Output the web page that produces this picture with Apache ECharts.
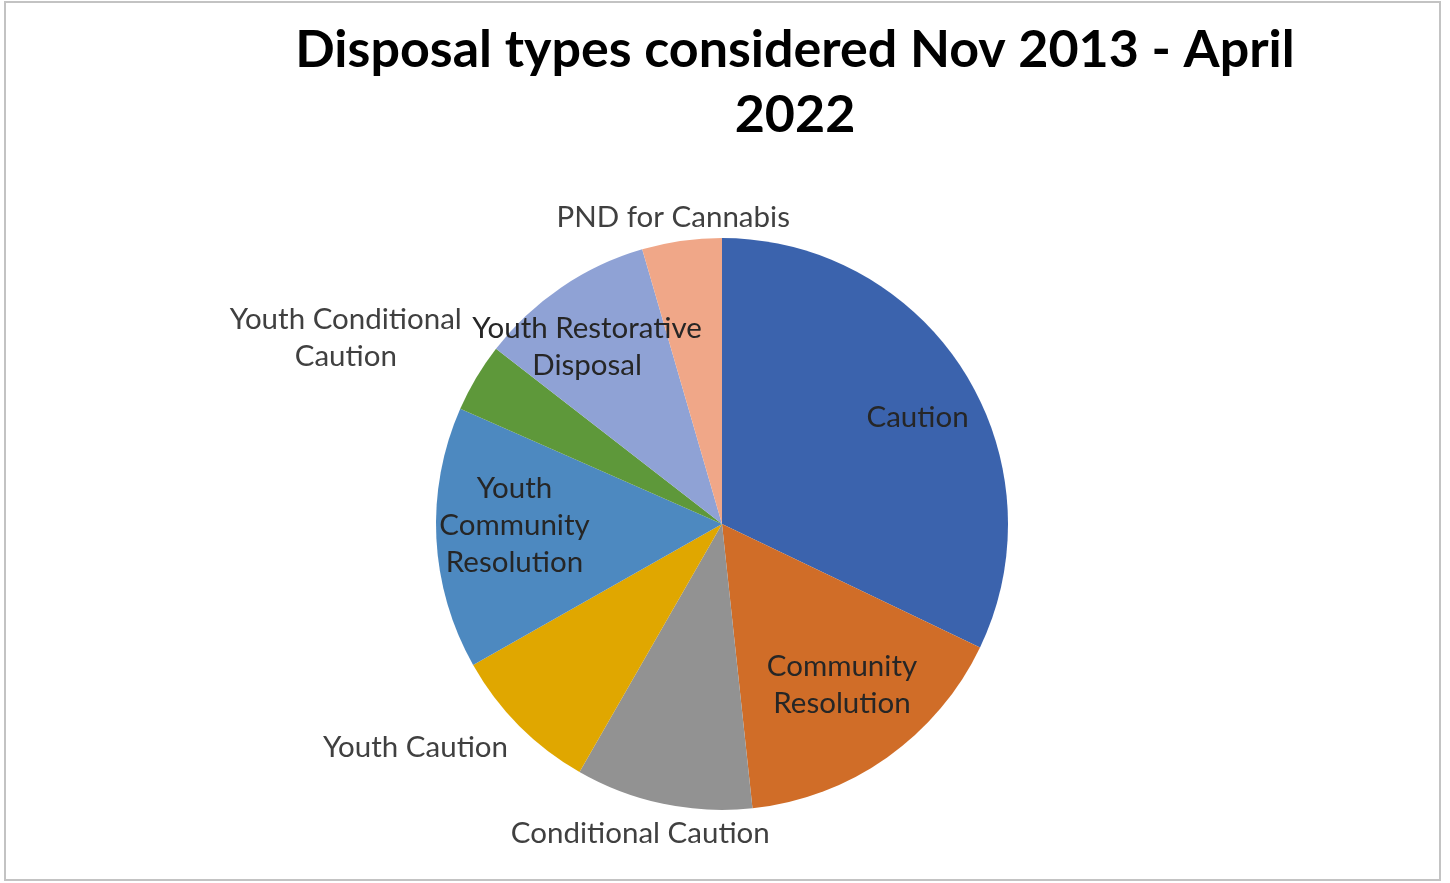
<!DOCTYPE html>
<html>
<head>
<meta charset="utf-8">
<script src="https://cdn.jsdelivr.net/npm/echarts@6/dist/echarts.min.js"></script>
<style>
  html, body { margin: 0; padding: 0; background: #ffffff; }
  #chart { width: 1450px; height: 883px; }
</style>
</head>
<body>
<div id="chart"></div>
<script>
// Disposal types, share of all disposals considered (percent)
const categories = [
  'Caution',
  'Community Resolution',
  'Conditional Caution',
  'Youth Caution',
  'Youth Community Resolution',
  'Youth Conditional Caution',
  'Youth Restorative Disposal',
  'PND for Cannabis'
];
const values = [32.1, 16.2, 10.0, 8.5, 14.8, 3.9, 10.0, 4.5];
const labelText = [
  'Caution',
  'Community\nResolution',
  'Conditional Caution',
  'Youth Caution',
  'Youth\nCommunity\nResolution',
  'Youth Conditional\nCaution',
  'Youth Restorative\nDisposal',
  'PND for Cannabis'
];
const insideLabel = [true, true, false, false, true, false, true, false];
const titleText = 'Disposal types considered Nov 2013 - April\n2022';

const palette = ['#3b63ad', '#d06d28', '#929292', '#e0a700', '#4d89c0', '#5e983a', '#8fa2d5', '#f0a788'];

// pie geometry
const CX = 722, CY = 524, R = 286;
// best-fit label placement: radial factor of R along the slice's mid angle, plus a small nudge
const labelPlace = [
  [0.775, 8, 12],
  [0.702, 4, -3],
  [1.116, -16, -3],
  [1.314, -40, -41],
  [0.723, -1, -9],
  [1.462, -17, 28],
  [0.777, -10, 7],
  [1.087, -5, 1]
];

const total = values.reduce((a, b) => a + b, 0);
const midAngles = [];
let acc = 0;
values.forEach(v => {
  midAngles.push((acc + v / 2) / total * 2 * Math.PI);
  acc += v;
});

const chart = echarts.init(document.getElementById('chart'), null, { renderer: 'canvas' });

chart.setOption({
  backgroundColor: '#ffffff',
  animation: false,
  graphic: [
    {
      type: 'rect',
      shape: { x: 5, y: 2, width: 1435, height: 878 },
      style: { fill: 'none', stroke: '#c3c3c3', lineWidth: 2 },
      silent: true
    },
    {
      type: 'text',
      x: 795,
      y: 83,
      style: {
        text: titleText,
        fontFamily: 'Lato',
        fontWeight: 'bold',
        fontSize: 52,
        lineHeight: 65,
        fill: '#000000',
        align: 'center',
        verticalAlign: 'middle'
      },
      silent: true
    }
  ],
  series: [
    {
      type: 'pie',
      center: [CX, CY],
      radius: [0, R],
      startAngle: 90,
      clockwise: true,
      avoidLabelOverlap: false,
      silent: true,
      data: categories.map((name, i) => ({
        name: name,
        value: values[i],
        itemStyle: { color: palette[i] },
        label: { color: insideLabel[i] ? '#262626' : '#404040' }
      })),
      itemStyle: { borderWidth: 0 },
      label: {
        show: true,
        position: 'outside',
        rotate: 0,
        formatter: p => labelText[p.dataIndex],
        fontFamily: 'Lato',
        fontSize: 29.5,
        lineHeight: 37,
        color: '#404040'
      },
      labelLine: { show: false },
      labelLayout: function (params) {
        const i = params.dataIndex;
        const a = midAngles[i];
        const p = labelPlace[i];
        return {
          x: CX + Math.sin(a) * R * p[0] + p[1],
          y: CY - Math.cos(a) * R * p[0] + p[2],
          align: 'center',
          verticalAlign: 'middle'
        };
      }
    }
  ]
});
</script>
</body>
</html>
